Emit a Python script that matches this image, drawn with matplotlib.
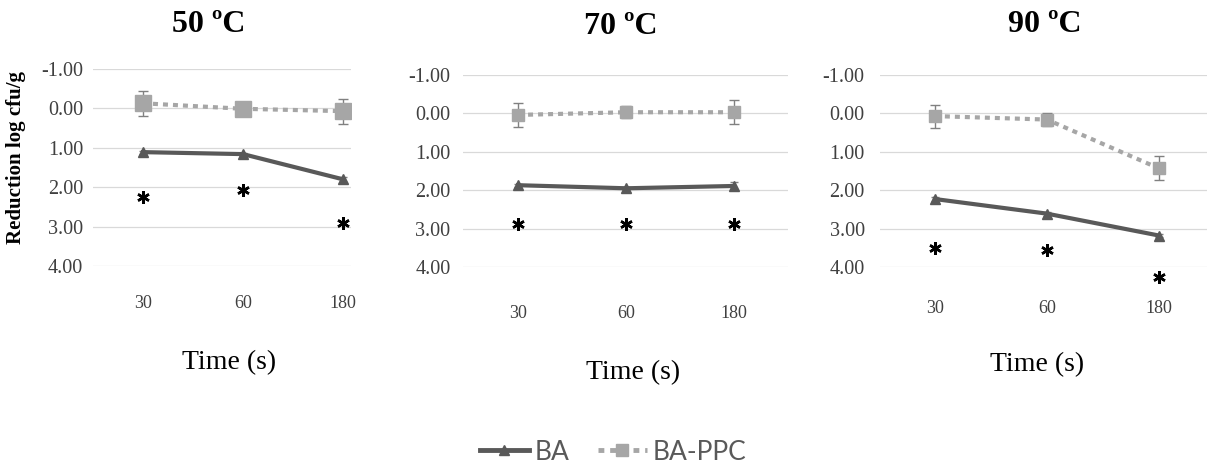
import matplotlib
matplotlib.use("Agg")
import matplotlib.pyplot as plt
from matplotlib.lines import Line2D

# dados (redução log cfu/g)
tempos = ['30', '60', '180']
temperaturas = ['50 ºC', '70 ºC', '90 ºC']

ba_50 = [1.11, 1.16, 1.80]
ba_70 = [1.87, 1.95, 1.89]
ba_90 = [2.23, 2.61, 3.18]
ba_err_50 = [0.04, 0.04, 0.06]
ba_err_70 = [0.04, 0.04, 0.10]
ba_err_90 = [0.04, 0.05, 0.05]

ppc_50 = [-0.13, 0.01, 0.07]
ppc_70 = [0.04, -0.03, -0.03]
ppc_90 = [0.07, 0.16, 1.43]
ppc_err_50 = [0.32, 0.05, 0.32]
ppc_err_70 = [0.32, 0.15, 0.31]
ppc_err_90 = [0.30, 0.16, 0.31]

# posição dos asteriscos (significância)
ast_50 = [2.25, 2.08, 2.90]
ast_70 = [2.87, 2.87, 2.87]
ast_90 = [3.50, 3.57, 4.27]

yticks = [-1, 0, 1, 2, 3, 4]

W, H = 1207, 466
fig = plt.figure(figsize=(W / 100, H / 100), dpi=100)

# caixas dos eixos em pixels: esquerda, topo, direita, base
caixas = [(93, 69, 351, 266), (463, 75, 788, 267), (880, 75, 1207, 267)]
xlims = [(-0.5, 2.08), (-0.51, 2.5), (-0.49, 2.43)]
pad_x = [21, 27, 24]
pad_y = [7, 9, 11]
ms_ppc = [12, 9, 9]
titulo_pos = [(209, 25), (621, 27), (1045, 25)]
xlabel_pos = [(229, 363), (633, 373), (1037, 365)]

ba = [ba_50, ba_70, ba_90]
ba_err = [ba_err_50, ba_err_70, ba_err_90]
ppc = [ppc_50, ppc_70, ppc_90]
ppc_err = [ppc_err_50, ppc_err_70, ppc_err_90]
ast = [ast_50, ast_70, ast_90]

cor_ba = '#595959'
cor_ppc = '#a6a6a6'
serif = 'Liberation Serif'

for i in range(3):
    l, t, r, b = caixas[i]
    ax = fig.add_axes([l / W, 1 - b / H, (r - l) / W, (b - t) / H])
    x = list(range(len(tempos)))

    ax.errorbar(x, ppc[i], yerr=ppc_err[i], color=cor_ppc, lw=3, ls=(0, (1.2, 1.2)),
                marker='s', ms=ms_ppc[i], mec=cor_ppc, mfc=cor_ppc,
                ecolor='#808080', elinewidth=1, capsize=3.5, zorder=3)
    ax.errorbar(x, ba[i], yerr=ba_err[i], color=cor_ba, lw=3, marker='^', ms=7,
                ecolor='#808080', elinewidth=1, capsize=3, zorder=4)
    ax.plot(x, ast[i], ls='none', marker=(6, 2, 0), ms=9, mew=1.8, color='black',
            zorder=5, clip_on=False)

    ax.set_ylim(4, -1)
    ax.set_xlim(*xlims[i])
    ax.set_yticks(yticks)
    ax.set_yticklabels(['%.2f' % v for v in yticks])
    ax.set_xticks(x)
    ax.set_xticklabels(tempos)
    ax.grid(axis='y', color='#d9d9d9', lw=0.9)
    ax.set_axisbelow(True)
    for s in ax.spines.values():
        s.set_visible(False)
    ax.tick_params(axis='x', length=0, pad=pad_x[i], labelsize=13, labelcolor='#404040')
    ax.tick_params(axis='y', length=0, pad=pad_y[i], labelsize=14.5, labelcolor='#404040')
    for lab in ax.get_xticklabels() + ax.get_yticklabels():
        lab.set_fontfamily(serif)

    tx, ty = titulo_pos[i]
    fig.text(tx / W, 1 - ty / H, temperaturas[i], ha='center', va='center',
             fontsize=23, fontweight='bold', fontfamily=serif)
    lx, ly = xlabel_pos[i]
    fig.text(lx / W, 1 - ly / H, 'Time (s)', ha='center', va='center',
             fontsize=20, fontfamily=serif)

fig.text(16 / W, 1 - 157 / H, 'Reduction log cfu/g', rotation=90, ha='center', va='center',
         fontsize=15, fontweight='bold', fontfamily=serif)

handles = [
    Line2D([], [], color=cor_ba, lw=3.5, marker='^', ms=7),
    Line2D([], [], color=cor_ppc, lw=3.5, ls=(0, (1.2, 1.2)), marker='s', ms=9),
]
leg = fig.legend(handles, ['BA', 'BA-PPC'], loc='center', bbox_to_anchor=(613 / W, 1 - 452 / H),
                 ncol=2, frameon=False, handlelength=1.85, handletextpad=0.2,
                 columnspacing=1.1, prop={'family': 'Lato', 'size': 19})
for txt in leg.get_texts():
    txt.set_color('#595959')

fig.savefig('out.png', dpi=100)
